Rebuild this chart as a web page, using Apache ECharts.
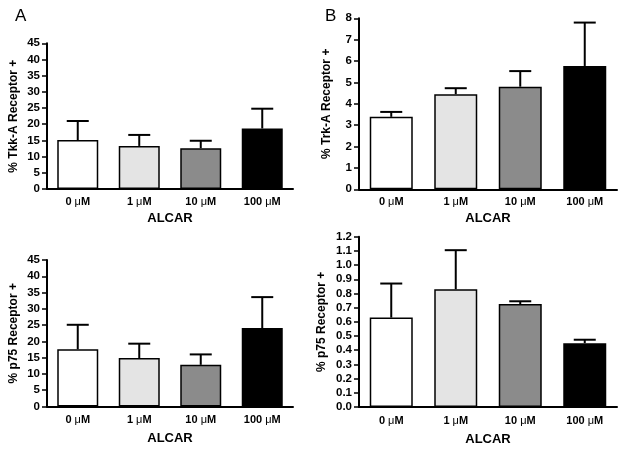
<!DOCTYPE html>
<html>
<head>
<meta charset="utf-8">
<script src="https://cdn.jsdelivr.net/npm/echarts@6/dist/echarts.min.js"></script>
<style>html,body{margin:0;padding:0;background:#fff}#c{width:624px;height:451px}</style>
</head>
<body>
<div id="c"></div>
<script>
// ---- data ----
const categories = ['0 μM', '1 μM', '10 μM', '100 μM'];
const trkA_A_mean = [15.1, 13.3, 12.6, 18.7];
const trkA_A_top  = [21.0, 16.7, 14.9, 24.8];
const p75_A_mean  = [17.6, 14.9, 12.8, 24.1];
const p75_A_top   = [25.1, 19.3, 16.0, 33.6];
const trkA_B_mean = [3.39, 4.45, 4.80, 5.77];
const trkA_B_top  = [3.62, 4.73, 5.53, 7.80];
const p75_B_mean  = [0.63, 0.83, 0.725, 0.45];
const p75_B_top   = [0.87, 1.105, 0.745, 0.474];
const yTitles = ['% Tkk-A Receptor +', '% Trk-A Receptor +', '% p75 Receptor +', '% p75 Receptor +'];
const xTitle = 'ALCAR';
const panelLabels = ['A', 'B'];

// ---- styles ----
const barColors = ['#ffffff', '#e4e4e4', '#8b8b8b', '#000000'];
const FONT = '"Liberation Sans", Arial, Helvetica, sans-serif';

const grids = [
  {left: 47, right: 331, top: 43.3, bottom: 262},
  {left: 359, right: 7, top: 18.3, bottom: 261.7},
  {left: 47, right: 331, top: 260, bottom: 44.5},
  {left: 359, right: 7, top: 236.7, bottom: 44}
];
const yCfg = [
  {max: 45, interval: 5, dec: 0, gap: 27},
  {max: 8, interval: 1, dec: 0, gap: 26},
  {max: 45, interval: 5, dec: 0, gap: 27},
  {max: 1.2, interval: 0.1, dec: 1, gap: 31}
];
const xCfg = [
  {margin: 7, gap: 23}, {margin: 7, gap: 23},
  {margin: 8, gap: 25.5}, {margin: 8, gap: 25.5}
];
const means = [trkA_A_mean, trkA_B_mean, p75_A_mean, p75_B_mean];
const tops = [trkA_A_top, trkA_B_top, p75_A_top, p75_B_top];
const barWidths = [41, 43, 41, 43];

const xAxes = grids.map((g, i) => ({
  type: 'category', gridIndex: i, data: categories,
  axisLine: {lineStyle: {color: '#000', width: 2}},
  axisTick: {show: false},
  axisLabel: {
    interval: 0, hideOverlap: false,
    margin: xCfg[i].margin,
    formatter: v => { const n = v.split(' ')[0]; return '{n|' + n + ' }{m|μ}{n|M}'; },
    rich: {
      n: {fontFamily: FONT, fontWeight: 'bold', fontSize: 11, color: '#000'},
      m: {fontFamily: FONT, fontWeight: 'normal', fontSize: 11, color: '#000'}
    }
  },
  name: xTitle, nameLocation: 'middle', nameGap: xCfg[i].gap,
  nameTextStyle: {fontFamily: FONT, fontWeight: 'bold', fontSize: 13, color: '#000'}
}));

const yAxes = grids.map((g, i) => ({
  type: 'value', gridIndex: i, min: 0, max: yCfg[i].max, interval: yCfg[i].interval,
  splitLine: {show: false},
  axisLine: {show: true, lineStyle: {color: '#000', width: 2}},
  axisTick: {show: true, length: 5, lineStyle: {color: '#000', width: 1.5}},
  axisLabel: {
    margin: 7, hideOverlap: false, color: '#000', fontFamily: FONT, fontWeight: 'bold', fontSize: 11.5,
    formatter: v => Number(v).toFixed(yCfg[i].dec)
  },
  name: yTitles[i], nameLocation: 'middle', nameGap: yCfg[i].gap,
  nameTextStyle: {fontFamily: FONT, fontWeight: 'bold', fontSize: 12, color: '#000'}
}));

const series = [];
grids.forEach((g, i) => {
  series.push({
    type: 'bar', xAxisIndex: i, yAxisIndex: i, barWidth: barWidths[i],
    data: means[i].map((v, k) => ({value: v, itemStyle: {color: barColors[k]}})),
    itemStyle: {borderColor: '#000', borderWidth: 1.5},
    silent: true, animation: false
  });
  series.push({
    type: 'custom', xAxisIndex: i, yAxisIndex: i, silent: true, animation: false, z: 3,
    data: means[i].map((v, k) => [k, v, tops[i][k]]),
    renderItem: (params, api) => {
      const p0 = api.coord([api.value(0), api.value(1)]);
      const p1 = api.coord([api.value(0), api.value(2)]);
      const st = {stroke: '#000', lineWidth: 2};
      return {type: 'group', children: [
        {type: 'line', shape: {x1: p0[0], y1: p0[1], x2: p1[0], y2: p1[1]}, style: st},
        {type: 'line', shape: {x1: p1[0] - 11, y1: p1[1], x2: p1[0] + 11, y2: p1[1]}, style: st}
      ]};
    }
  });
});

const chart = echarts.init(document.getElementById('c'), null, {renderer: 'canvas'});
chart.setOption({
  animation: false,
  backgroundColor: '#fff',
  title: [
    {text: panelLabels[0], left: 10, top: 3, textStyle: {fontFamily: FONT, fontWeight: 'normal', fontSize: 17, color: '#000'}},
    {text: panelLabels[1], left: 320, top: 3, textStyle: {fontFamily: FONT, fontWeight: 'normal', fontSize: 17, color: '#000'}}
  ],
  grid: grids,
  xAxis: xAxes,
  yAxis: yAxes,
  series: series
});
</script>
</body>
</html>
